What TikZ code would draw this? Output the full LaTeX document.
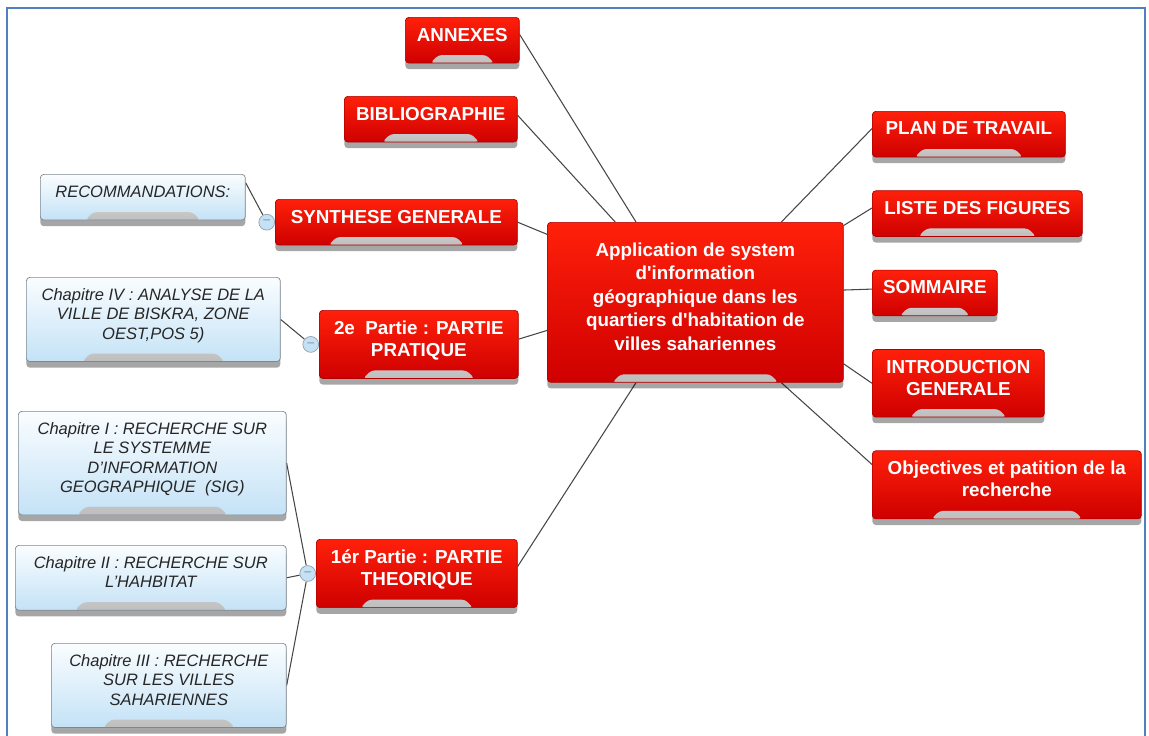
\documentclass[tikz,border=0pt]{standalone}
\usepackage{fontspec}
\setmainfont{Liberation Sans}
\usetikzlibrary{positioning, calc, shadows, backgrounds}
\definecolor{frameblue}{RGB}{79,129,189}
\definecolor{redtop}{RGB}{255,32,10}
\definecolor{redbot}{RGB}{206,0,0}
\definecolor{redline}{RGB}{175,0,0}
\definecolor{bluetop}{RGB}{250,253,255}
\definecolor{bluebot}{RGB}{196,226,246}
\definecolor{blueline}{RGB}{125,135,145}
\definecolor{tabtop}{RGB}{245,245,245}
\definecolor{tabbot}{RGB}{190,190,190}
\definecolor{linkgray}{RGB}{70,70,70}

\begin{document}
\begin{tikzpicture}[
        x=0.02cm, y=-0.02cm,
        box/.style={rectangle, rounded corners=2pt, minimum height=26pt, inner xsep=6pt, inner ysep=6pt, align=center, anchor=north west,
            drop shadow={shadow xshift=0pt, shadow yshift=-3.5pt, fill=black, opacity=.35},
            path picture={\shade[top color=tabtop, bottom color=tabbot] ($(path picture bounding box.south west)!.22!(path picture bounding box.south east)$) -- ++(8,-8)
                -- ($(path picture bounding box.south west)!.78!(path picture bounding box.south east)+(-8,-8)$)
                -- ($(path picture bounding box.south west)!.78!(path picture bounding box.south east)$) -- cycle;},
            execute at end node={\rule[-6.5pt]{0pt}{6.5pt}}},
        redbox/.style={box, draw=redline, top color=redtop, bottom color=redbot, text=white, font=\bfseries\fontsize{10.7}{12.5}\selectfont},
        bluebox/.style={box, draw=blueline, top color=bluetop, bottom color=bluebot, text=black!85, inner ysep=6.3pt, font=\itshape\fontsize{9.4}{11}\selectfont},
        knob/.style={circle, draw=blueline!80, fill=bluebot, inner sep=0pt, minimum size=9pt, text=blueline, font=\fontsize{7}{7}\selectfont},
        link/.style={draw=linkgray, line width=0.6pt}
    ]
    \useasboundingbox (0,0) rectangle (1149,735);
    \draw[frameblue, line width=1.3pt] (7,8) rectangle (1145,760);

    % centre
    \node[redbox, minimum width=5.92cm, minimum height=3.2cm, font=\bfseries\fontsize{10.7}{13.4}\selectfont] (center) at (547,222)
        {Application de system\\d\textquotesingle information\\géographique dans les\\quartiers d\textquotesingle habitation de\\villes sahariennes};

    % left side
    \node[redbox, minimum width=2.28cm] (annexes) at (405,17) {ANNEXES};
    \node[redbox, minimum width=3.46cm] (biblio) at (344,96) {BIBLIOGRAPHIE};
    \node[redbox, minimum width=4.84cm] (synth) at (275,199) {SYNTHESE GENERALE};
    \node[bluebox, minimum width=4.1cm] (recom) at (40,174) {RECOMMANDATIONS:};
    \node[redbox, minimum width=3.98cm] (part2) at (319,310) {2e\ \ Partie : PARTIE\\PRATIQUE};
    \node[bluebox, minimum width=5.08cm] (chap4) at (26,277) {Chapitre IV : ANALYSE DE LA\\VILLE DE BISKRA, ZONE\\OEST,POS 5)};
    \node[redbox, minimum width=4.02cm] (part1) at (316,539) {1ér Partie : PARTIE\\THEORIQUE};
    \node[bluebox, minimum width=5.36cm] (chap1) at (18,411) {Chapitre I : RECHERCHE SUR\\LE SYSTEMME\\D’INFORMATION\\GEOGRAPHIQUE\ \ (SIG)};
    \node[bluebox, minimum width=5.42cm] (chap2) at (15,545) {Chapitre II : RECHERCHE SUR\\L’HAHBITAT};
    \node[bluebox, minimum width=4.7cm] (chap3) at (51,643) {Chapitre III : RECHERCHE\\SUR LES VILLES\\SAHARIENNES};

    % right side
    \node[redbox, minimum width=3.86cm] (plan) at (872,111) {PLAN DE TRAVAIL};
    \node[redbox, minimum width=4.2cm, below=0.66cm of plan.south west, anchor=north west] (liste) {LISTE DES FIGURES};
    \node[redbox, minimum width=2.5cm, below=0.66cm of liste.south west, anchor=north west] (sommaire) {SOMMAIRE};
    \node[redbox, minimum width=3.44cm, below=0.66cm of sommaire.south west, anchor=north west] (intro) {INTRODUCTION\\GENERALE};
    \node[redbox, minimum width=5.38cm, below=0.66cm of intro.south west, anchor=north west] (obj) {Objectives et patition de la\\recherche};

    % collapse buttons
    \node[knob, left=0pt of synth.west] (k1) {\textendash};
    \node[knob, left=0pt of part2.west] (k2) {\textendash};
    \node[knob, left=0pt of part1.west] (k3) {\textendash};

    \begin{scope}[on background layer]
        \draw[link] ([yshift=-10pt]annexes.north east) -- ($(center.north west)!.3!(center.north east)$);
        \draw[link] ([yshift=-11pt]biblio.north east) -- ($(center.north west)!.23!(center.north east)$);
        \draw[link] (synth.east) -- ([yshift=-7pt]center.north west);
        \draw[link] ([yshift=3pt]part2.east) -- ([yshift=-16pt]center.west);
        \draw[link] ([yshift=4pt]part1.east) -- ($(center.south west)!.3!(center.south east)$);
        \draw[link] ([yshift=-10pt]plan.north west) -- ($(center.north west)!.79!(center.north east)$);
        \draw[link] ([yshift=-10pt]liste.north west) -- ([yshift=-2pt]center.north east);
        \draw[link] ([yshift=-11pt]sommaire.north west) -- ([yshift=7pt]center.east);
        \draw[link] (intro.west) -- ([yshift=-35pt]center.east);
        \draw[link] ([yshift=-8pt]obj.north west) -- ($(center.south west)!.79!(center.south east)$);
        \draw[link] ([yshift=-5pt]recom.north east) -- (k1);
        \draw[link] (chap4.east) -- (k2);
        \draw[link] (chap1.east) -- (k3);
        \draw[link] (chap2.east) -- (k3);
        \draw[link] (chap3.east) -- (k3);
    \end{scope}
\end{tikzpicture}
\end{document}
